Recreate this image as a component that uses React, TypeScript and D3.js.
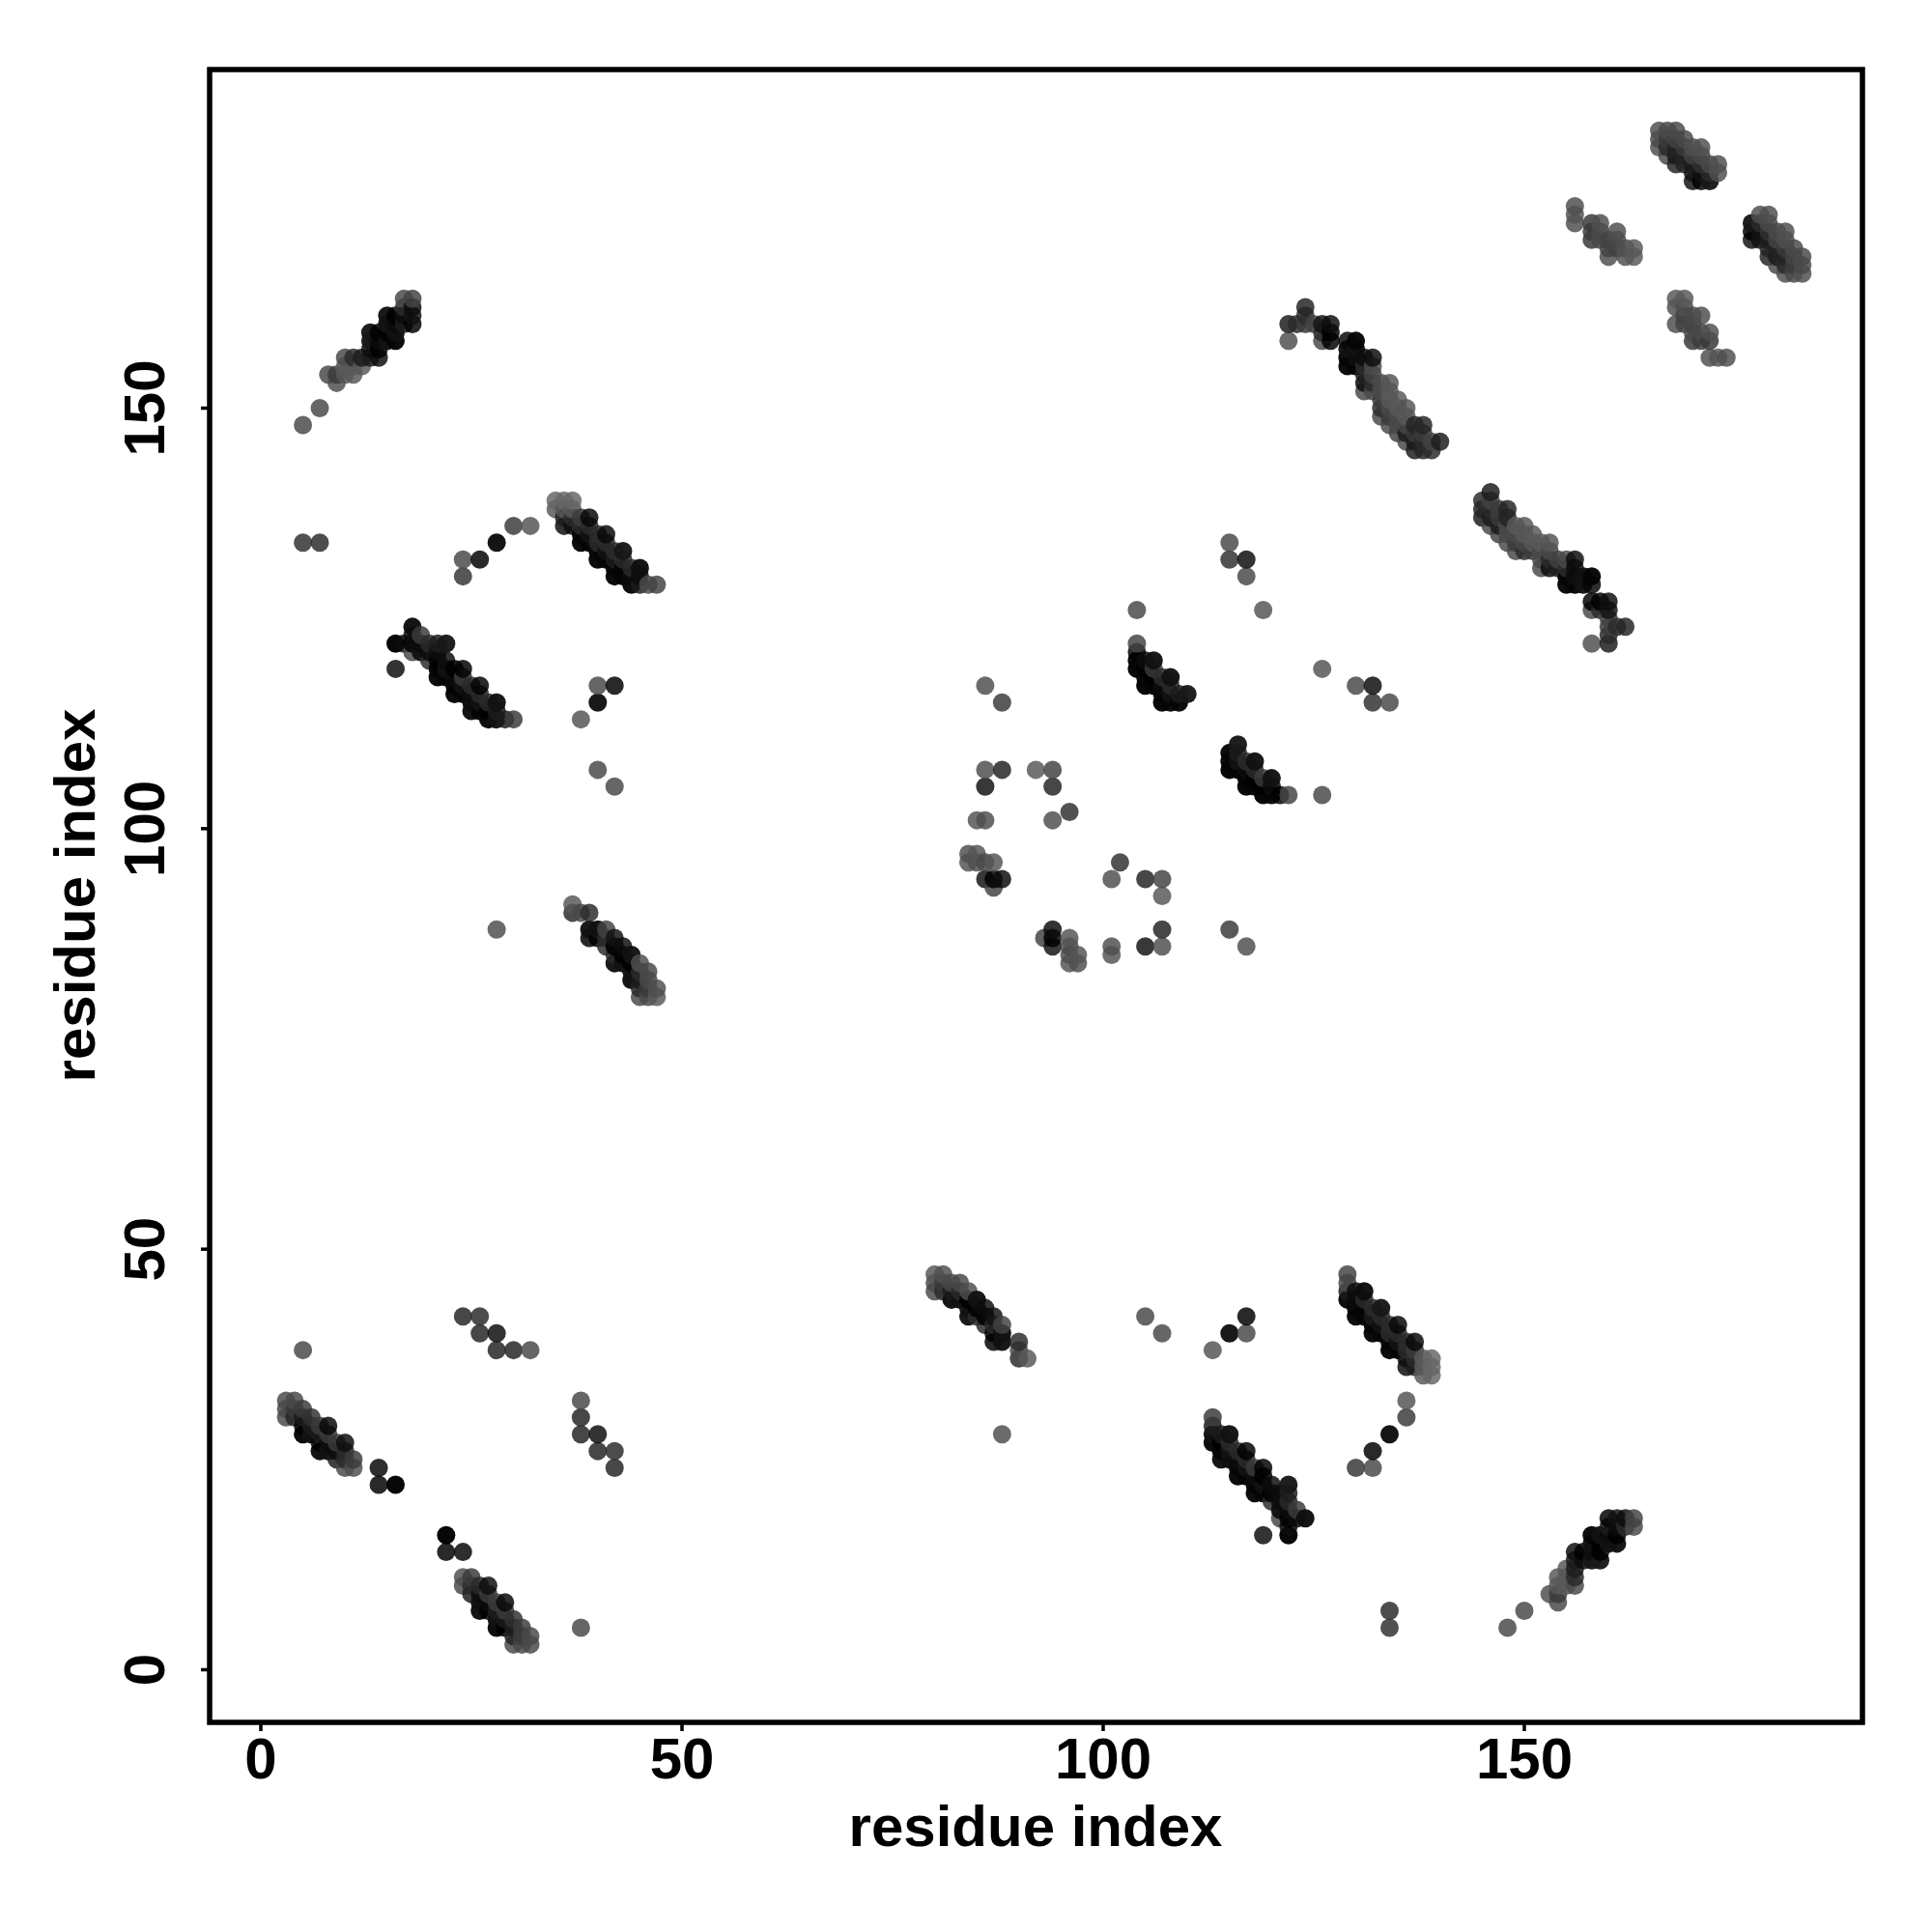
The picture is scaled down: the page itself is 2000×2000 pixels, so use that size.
import React from "react";
import * as d3 from "d3";

type C = [number, number, number];

const xTickValues = [0, 50, 100, 150];
const yTickValues = [0, 50, 100, 150];

const strandA: C[] = [
  [3,30,.6],[3,31,.6],[3,32,.6],[4,30,.72],[4,31,.65],[4,32,.6],
  [5,28,.95],[5,29,.85],[5,30,.75],[5,31,.65],[6,28,.9],[6,29,.75],[6,30,.68],
  [7,26,.92],[7,27,.85],[7,28,.75],[7,29,.65],[8,26,.9],[8,27,.8],[8,28,.65],[8,29,.82],
  [9,25,.75],[9,26,.8],[9,27,.65],[10,24,.6],[10,25,.7],[10,26,.7],[10,27,.8],[11,24,.58],[11,25,.65],
];
const isolatedLow: C[] = [
  [5,38,.6],[24,42,.72],[26,42,.7],[26,40,.72],[28,40,.8],[28,38,.72],[30,38,.72],[32,38,.6],
  [14,24,.82],[14,22,.85],[16,22,.98],[5,134,.68],[7,134,.7],
  [88,28,.58],[105,42,.6],[107,40,.6],[113,38,.56],[115,40,.9],[117,40,.6],[117,42,.85],
  [130,24,.66],[132,24,.6],[132,26,.85],[134,28,.92],[136,30,.65],[136,32,.56],
  [119,16,.8],
];
const strandD: C[] = [
  [80,45,.6],[80,46,.6],[80,47,.55],[81,45,.7],[81,46,.65],[81,47,.58],
  [82,44,.92],[82,45,.75],[82,46,.6],[83,44,.9],[83,45,.7],[83,46,.6],
  [84,42,.9],[84,43,.9],[84,44,.85],[84,45,.58],[85,42,.7],[85,43,.85],[85,44,.9],
  [86,41,.7],[86,42,.95],[86,43,.8],[87,39,.85],[87,40,.85],[87,41,.7],[87,42,.78],
  [88,39,.9],[88,40,.9],[88,41,.62],[90,37,.7],[90,38,.6],[90,39,.7],[91,37,.55],
];
const strandE: C[] = [
  [129,44,.95],[129,45,.75],[129,46,.6],[129,47,.62],
  [130,42,.95],[130,43,.95],[130,44,.8],[130,45,.8],[131,42,.95],[131,43,.95],[131,44,.7],[131,45,.92],
  [132,40,.95],[132,41,.95],[132,42,.75],[132,43,.7],[133,40,.95],[133,41,.9],[133,42,.7],[133,43,.88],
  [134,38,.95],[134,39,.95],[134,40,.7],[134,41,.7],[135,38,.95],[135,39,.9],[135,40,.7],[135,41,.82],
  [136,36,.8],[136,37,.8],[136,38,.7],[136,39,.7],[137,36,.75],[137,37,.7],[137,38,.65],[137,39,.82],
  [138,35,.55],[138,36,.55],[138,37,.55],[139,35,.5],[139,36,.5],[139,37,.5],
];
const strandF: C[] = [
  [113,27,.95],[113,28,.9],[113,29,.75],[113,30,.65],[114,25,.92],[114,26,.95],[114,27,.85],[114,28,.75],
  [115,25,.92],[115,26,.9],[115,27,.7],[115,28,.9],[116,23,.95],[116,24,.95],[116,25,.8],[116,26,.7],
  [117,23,.95],[117,24,.9],[117,25,.7],[117,26,.85],[118,21,.95],[118,22,.95],[118,23,.8],[118,24,.65],
  [119,21,.95],[119,22,.9],[119,23,.85],[119,24,.85],[120,20,.7],[120,21,.85],[120,22,.8],
  [121,18,.6],[121,19,.9],[121,20,.8],[121,21,.8],
  [122,16,.97],[122,17,.8],[122,18,.85],[122,19,.8],[122,20,.7],[122,21,.75],[122,22,.88],
  [123,18,.8],[123,19,.65],[124,18,.92],
];
const strandG: C[] = [
  [148,5,.6],[150,7,.6],[153,9,.58],[154,8,.6],[154,9,.65],[154,10,.55],[154,11,.55],
  [155,10,.55],[155,11,.55],[155,12,.55],[156,10,.6],[156,11,.7],[156,12,.75],[156,13,.75],[156,14,.8],
  [157,13,.8],[157,14,.85],[158,13,.88],[158,14,.8],[158,15,.9],[158,16,.95],
  [159,13,.88],[159,14,.85],[159,15,.85],[159,16,.9],[160,15,.9],[160,16,.8],[160,17,.75],[160,18,.85],
  [161,15,.9],[161,16,.85],[161,17,.8],[161,18,.78],[162,17,.7],[162,18,.8],[163,17,.6],[163,18,.62],
];
const strandK: C[] = [
  [122,158,.58],[122,160,.75],[123,160,.7],[124,160,.65],[124,161,.7],[124,162,.72],[125,160,.62],
  [126,158,.6],[126,159,.7],[126,160,.78],[127,158,.85],[127,159,.85],[127,160,.8],
  [129,155,.95],[129,156,.95],[129,157,.9],[129,158,.82],[130,155,.95],[130,156,.92],[130,157,.9],[130,158,.95],
  [131,152,.6],[131,153,.8],[131,154,.75],[131,155,.7],[131,156,.8],[132,152,.6],[132,153,.7],[132,154,.62],[132,155,.6],[132,156,.8],
  [133,149,.6],[133,150,.7],[133,151,.65],[133,152,.6],[133,153,.6],[134,148,.6],[134,149,.65],[134,150,.6],[134,151,.55],[134,152,.55],[134,153,.56],
  [135,147,.62],[135,148,.6],[135,149,.6],[135,150,.55],[135,151,.55],[136,146,.6],[136,147,.75],[136,148,.6],[136,149,.55],[136,150,.56],
  [137,145,.75],[137,146,.75],[137,147,.65],[137,148,.72],[138,145,.72],[138,146,.7],[138,147,.65],[138,148,.72],
  [139,145,.7],[139,146,.62],[140,146,.75],
];
const strandM: C[] = [
  [104,119,.97],[104,120,.95],[104,121,.85],[104,122,.62],[104,126,.6],
  [105,117,.98],[105,118,.95],[105,119,.85],[105,120,.8],[106,117,.95],[106,118,.85],[106,119,.65],[106,120,.9],
  [107,115,.98],[107,116,.95],[107,117,.8],[107,118,.7],[108,115,.95],[108,116,.9],[108,117,.7],[108,118,.9],
  [109,115,.95],[109,116,.75],[110,116,.88],[119,126,.56],[115,134,.6],[115,132,.68],[117,132,.8],[117,130,.6],
  [86,117,.58],[88,115,.65],
];
const centerLoops: C[] = [
  [86,107,.58],[88,107,.72],[86,105,.78],[92,107,.55],[94,107,.62],[94,105,.72],[96,102,.68],[94,101,.58],
  [85,101,.56],[86,101,.58],[84,97,.58],[85,97,.56],[84,96,.56],[85,96,.58],[86,96,.6],[87,96,.56],
  [86,94,.78],[87,94,.85],[88,94,.8],[87,93,.62],[102,96,.68],[101,94,.6],[105,94,.72],[107,94,.6],[107,92,.55],
  [93,87,.65],[94,86,.8],[94,87,.82],[94,88,.8],[96,84,.58],[96,85,.6],[96,86,.6],[96,87,.55],[97,84,.56],[97,85,.56],
  [101,85,.58],[101,86,.58],[105,86,.75],[107,86,.58],[107,88,.7],
];
const strandTop: C[] = [
  [166,181,.58],[166,182,.6],[166,183,.58],[167,180,.6],[167,181,.7],[167,182,.65],[167,183,.6],
  [168,179,.72],[168,180,.75],[168,181,.72],[168,182,.62],[168,183,.6],[169,179,.72],[169,180,.72],[169,181,.65],[169,182,.6],
  [170,177,.78],[170,178,.78],[170,179,.75],[170,180,.62],[170,181,.58],[171,177,.85],[171,178,.78],[171,179,.68],[171,180,.6],[171,181,.58],
  [172,177,.88],[172,178,.7],[172,179,.6],[173,178,.58],[173,179,.58],
];
const strandSide: C[] = [
  [156,172,.58],[156,173,.56],[156,174,.58],[158,170,.66],[158,171,.65],[158,172,.66],[159,170,.6],[159,171,.6],[159,172,.58],
  [160,168,.58],[160,169,.62],[160,170,.62],[161,169,.62],[161,170,.6],[161,171,.58],[162,168,.58],[162,169,.58],[163,168,.55],[163,169,.55],
  [168,160,.58],[168,162,.58],[169,161,.6],[169,163,.56],[171,161,.62],[170,158,.72],[172,159,.62],[172,156,.6],[173,156,.58],[174,156,.56],
];

const halfContacts: C[] = [
  ...strandA, ...isolatedLow, ...strandD, ...strandE, ...strandF, ...strandG,
  ...strandK, ...strandM, ...centerLoops, ...strandTop, ...strandSide,
];

const W = 2000;
const frame = { left: 217, right: 1928, top: 72, bottom: 1783 };
const x = d3.scaleLinear().domain([0, 150]).range([270, 1578]);
const y = d3.scaleLinear().domain([0, 150]).range([1728.5, 422.5]);
const font = "'Liberation Sans', Arial, sans-serif";
const opacityOf = (shade: number) => (shade > 0.85 ? 0.97 : 0.84);
const grayLevel = (shade: number) => {
  const op = opacityOf(shade);
  const target = 255 * (1 - shade);
  const g = Math.max(0, (target - 255 * (1 - op)) / op);
  return d3.rgb(g, g, g).formatHex();
};

export default function App() {
  const seen = new Set<string>();
  const pts = halfContacts
    .flatMap(([a, b, o]) => [[a, b, o], [b, a, o]] as C[])
    .filter(([a, b]) => {
      const k = a + "," + b;
      if (seen.has(k)) return false;
      seen.add(k);
      return true;
    })
    .sort((p, q) => d3.ascending(p[0], q[0]) || d3.ascending(p[1], q[1]));
  return (
    <svg width={W} height={W} style={{ position: "absolute", left: 0, top: 0, background: "#fff" }} fontFamily={font} fontWeight="bold" fill="#000">
      {pts.map(([a, b, o], i) => (
        <circle key={i} cx={x(a)} cy={y(b)} r={9.5} fill={grayLevel(o)} fillOpacity={opacityOf(o)} />
      ))}
      <rect x={frame.left} y={frame.top} width={frame.right - frame.left} height={frame.bottom - frame.top} fill="none" stroke="#000" strokeWidth={5.5} />
      {xTickValues.map((t) => (
        <g key={t}>
          <line x1={x(t)} x2={x(t)} y1={frame.bottom} y2={frame.bottom + 9} stroke="#000" strokeWidth={3.5} />
          <text x={x(t)} y={1841} textAnchor="middle" fontSize={60}>{t}</text>
        </g>
      ))}
      {yTickValues.map((t) => (
        <g key={t}>
          <line x1={frame.left - 9} x2={frame.left} y1={y(t)} y2={y(t)} stroke="#000" strokeWidth={3.5} />
          <text transform={`translate(170,${y(t)}) rotate(-90)`} textAnchor="middle" fontSize={60}>{t}</text>
        </g>
      ))}
      <text x={1072} y={1911} textAnchor="middle" fontSize={60}>residue index</text>
      <text transform={`translate(98,927) rotate(-90)`} textAnchor="middle" fontSize={60}>residue index</text>
    </svg>
  );
}
